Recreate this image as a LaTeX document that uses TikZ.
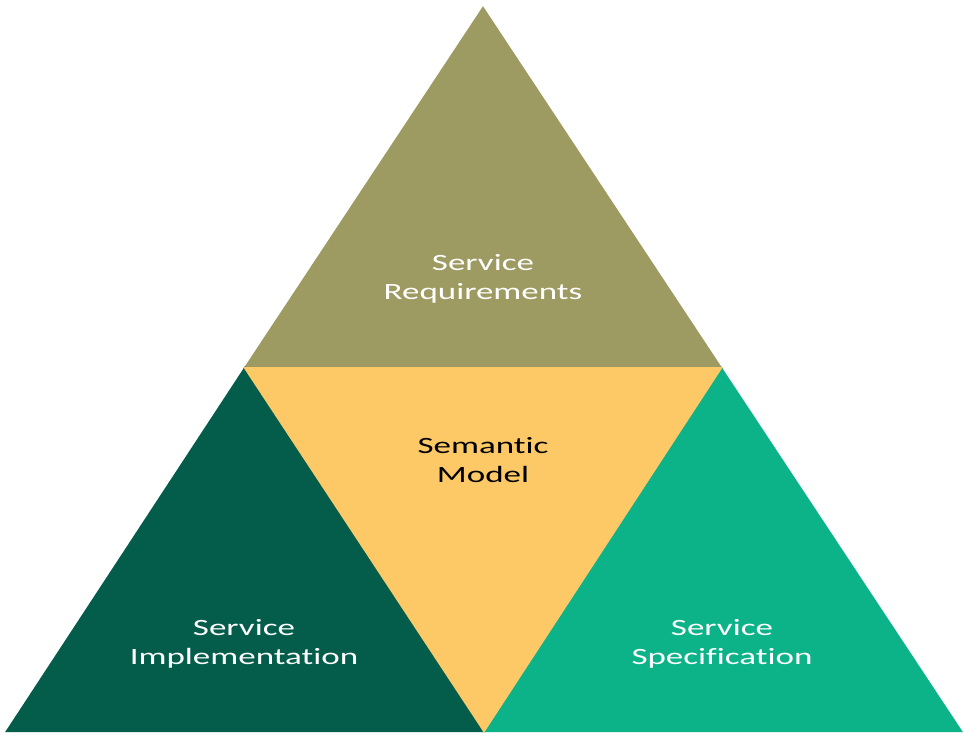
\documentclass[tikz,border=0pt]{standalone}
\usepackage{fontspec}
\setmainfont[FakeStretch=1.5, Ligatures=NoCommon]{Carlito}
\definecolor{olive}{HTML}{9D9B62}
\definecolor{sand}{HTML}{FDC966}
\definecolor{pine}{HTML}{045D4B}
\definecolor{jade}{HTML}{0DB388}
\tikzset{
  face/.style = {draw = white, line width = 1.5pt, line join = miter},
  label/.style = {align = center, text = white,
                  font = \fontsize{17.5}{21.75}\selectfont}
}
\begin{document}
\begin{tikzpicture}[x = 0.75pt, y = -0.75pt]
    \useasboundingbox (0, 0) rectangle (964, 740);
    \coordinate (top)   at (483, 8);
    \coordinate (midl)  at (245, 368);
    \coordinate (midr)  at (721, 368);
    \coordinate (botl)  at (7, 731);
    \coordinate (botm)  at (484, 731);
    \coordinate (botr)  at (961, 731);
    \fill [face, olive] (top) -- (midr) -- (midl) -- cycle;
    \fill [face, pine] (midl) -- (botm) -- (botl) -- cycle;
    \fill [face, jade] (midr) -- (botr) -- (botm) -- cycle;
    \fill [face, sand] (midl) -- (midr) -- (botm) -- cycle;
    \node [label] (req)  at (483, 279) {Service\\Requirements};
    \node [label, text = black] (sem) at (483, 460) {Semantic\\Model};
    \node [label] (impl) at (244, 644) {Service\\Implementation};
    \node [label] (spec) at (722, 644) {Service\\Specification};
  \end{tikzpicture}
\end{document}
